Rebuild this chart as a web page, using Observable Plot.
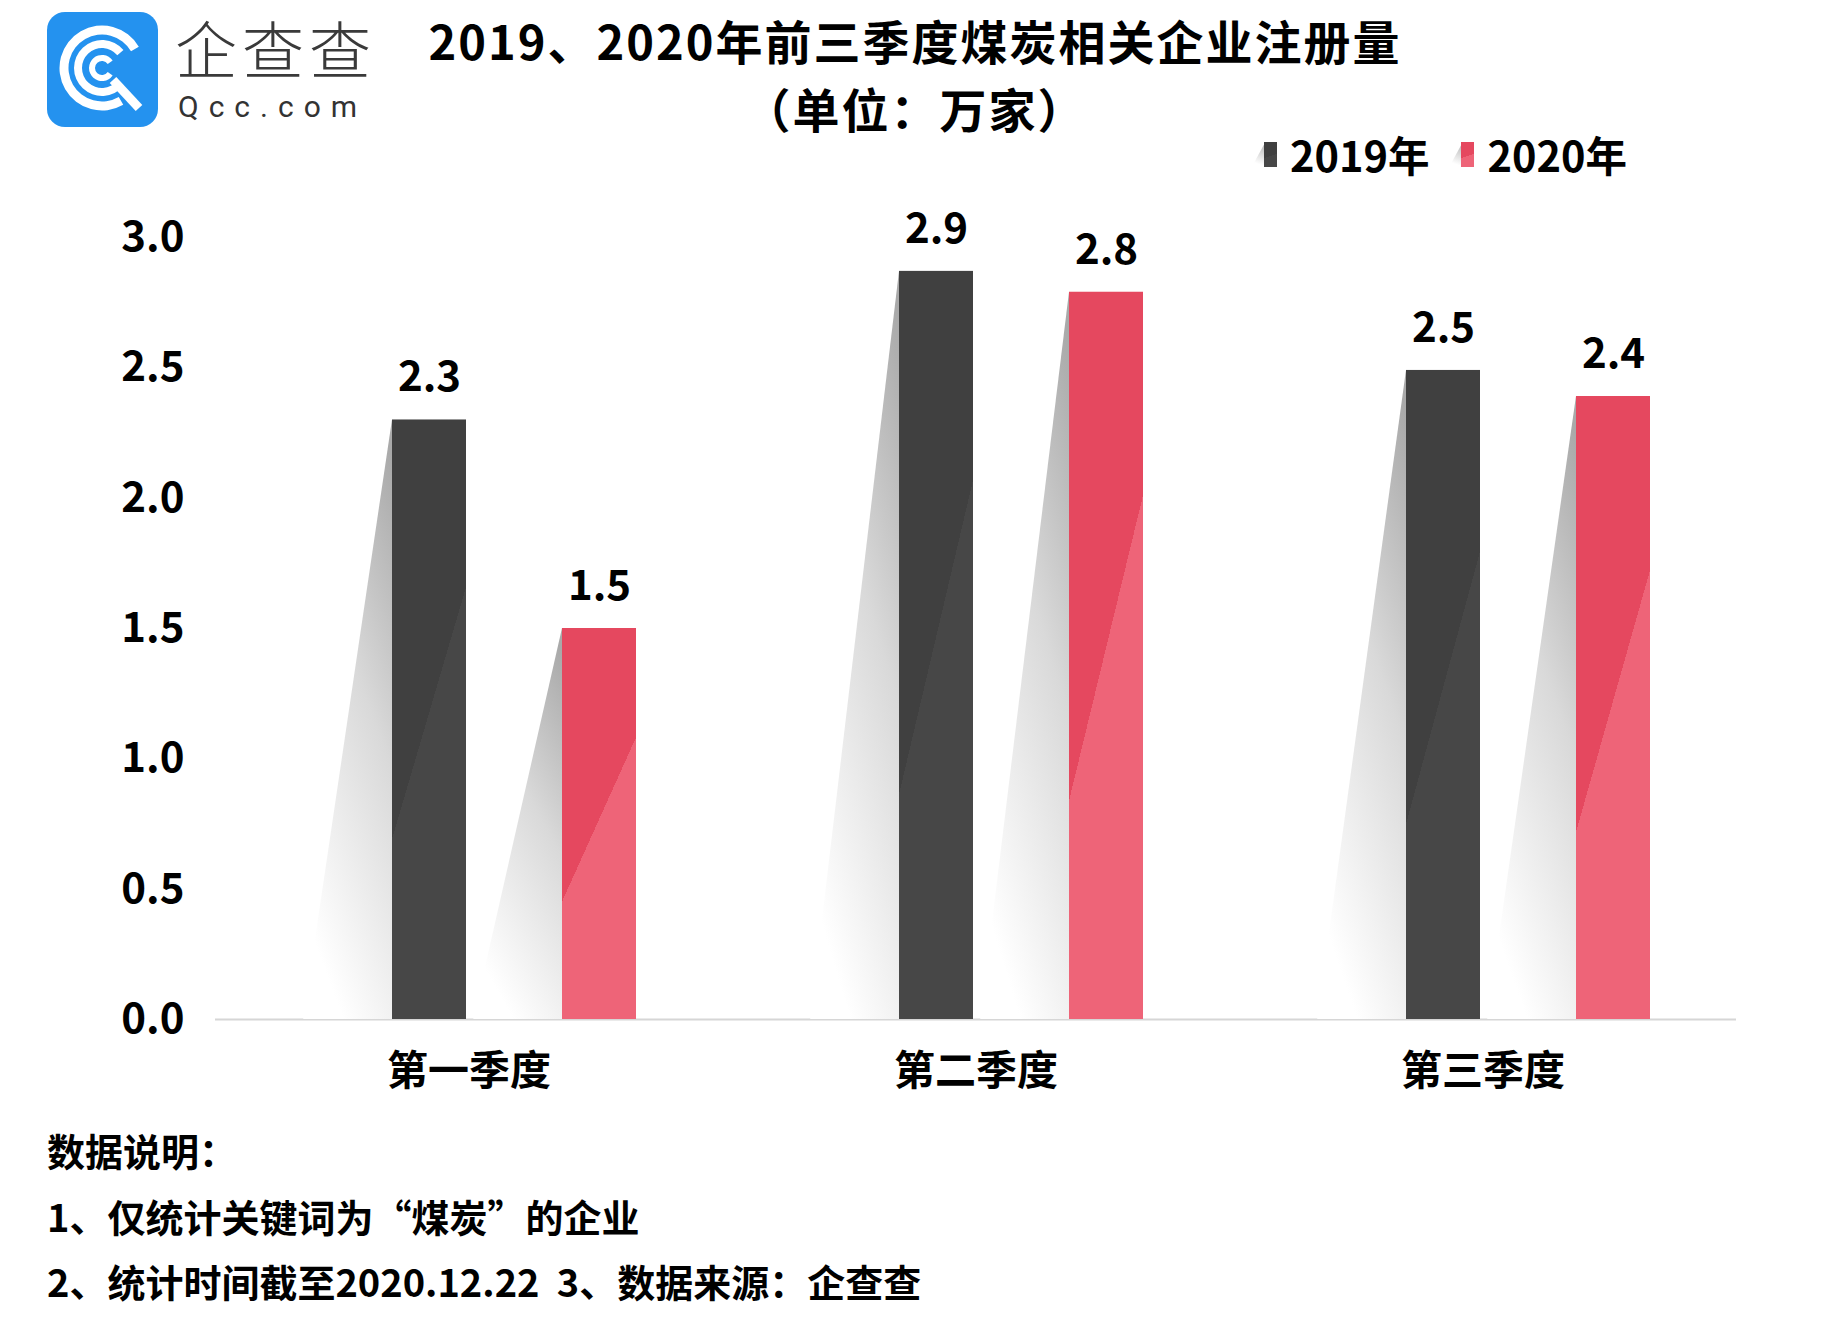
<!DOCTYPE html>
<html>
<head>
<meta charset="utf-8">
<script src="https://cdn.jsdelivr.net/npm/d3@7"></script>
<script src="https://cdn.jsdelivr.net/npm/@observablehq/plot@0.6"></script>
<style>
  html, body { margin: 0; padding: 0; background: #fff; }
  body { width: 1822px; height: 1325px; position: relative; overflow: hidden;
         font-family: "Noto Sans CJK SC", "Noto Sans", sans-serif; color: #000; }
  .abs { position: absolute; }
  #title { left: 0; width: 1830px; top: 6px; text-align: center; font-weight: 700;
           font-size: 47px; line-height: 68px; letter-spacing: 2px; }
  #brand { left: 175px; top: 12px; font-size: 62px; line-height: 70px; font-weight: 300;
           letter-spacing: 5px; color: #3a3a3a; }
  #brand2 { left: 178px; top: 90px; font-family: Roboto, "DejaVu Sans", sans-serif; font-size: 30px;
            line-height: 34px; letter-spacing: 10px; color: #333; }
  #legend { left: 1252px; top: 126px; display: flex; align-items: center; font-weight: 700;
            font-size: 41.5px; line-height: 56px; }
  .item { display: flex; align-items: center; margin-right: 20px; }
  .sw { width: 13px; height: 25px; margin-left: 12px; margin-right: 13px; position: relative; }
  .sw::before { content: ""; position: absolute; left: -12px; top: 3px; width: 12px; height: 22px;
                background: linear-gradient(200deg, #bbb, #fff 80%); clip-path: polygon(100% 0, 100% 100%, 0 100%); }
  #footer { left: 47px; top: 1117px; font-weight: 700; font-size: 38px; line-height: 65.5px; }
  #chart { left: 0; top: 170px; }
</style>
</head>
<body>
<svg class="abs" style="left:47px;top:12px" width="111" height="115" viewBox="0 0 111 115" id="logo"></svg>
<div id="brand" class="abs">企查查</div>
<div id="brand2" class="abs">Qcc.com</div>
<div id="title" class="abs"></div>
<div id="legend" class="abs"></div>
<div id="chart" class="abs"></div>
<div id="footer" class="abs"></div>
<script>
// ---------- data ----------
const quarters = ["第一季度", "第二季度", "第三季度"];
const years = ["2019年", "2020年"];
const values2019 = [2.3, 2.87, 2.49];
const values2020 = [1.5, 2.79, 2.39];
const yTicks = [0, 0.5, 1, 1.5, 2, 2.5, 3];
const titleLines = ["2019、2020年前三季度煤炭相关企业注册量", "（单位：万家）"];
const footerLines = ["数据说明：", "1、仅统计关键词为“煤炭”的企业", "2、统计时间截至2020.12.22\u00a0\u00a03、数据来源：企查查"];
const seriesColors = { "2019年": ["#404040", "#474747"], "2020年": ["#e5485f", "#ee6478"] };

const rows = [];
quarters.forEach((q, i) => {
  rows.push({ quarter: q, year: years[0], value: values2019[i] });
  rows.push({ quarter: q, year: years[1], value: values2020[i] });
});

// ---------- logo ----------
(function () {
  const s = d3.select("#logo");
  s.append("rect").attr("width", 111).attr("height", 115).attr("rx", 18).attr("fill", "#2492ef");
  const cx = 55, cy = 56;
  const arc = (r, a0, a1, w) => s.append("path")
    .attr("d", d3.arc()({ innerRadius: r - w / 2, outerRadius: r + w / 2, startAngle: a0 * Math.PI / 180, endAngle: a1 * Math.PI / 180 }))
    .attr("transform", `translate(${cx},${cy})`).attr("fill", "#fff");
  arc(38, 150, 420, 9);
  arc(24, 130, 410, 8);
  arc(10, 125, 415, 6);
  s.append("line").attr("x1", 66).attr("y1", 68).attr("x2", 92).attr("y2", 96)
    .attr("stroke", "#fff").attr("stroke-width", 9);
})();

// ---------- title / legend / footer ----------
d3.select("#title").selectAll("div").data(titleLines).join("div").text(d => d);
const leg = d3.select("#legend").selectAll(".item").data(years).join("div").attr("class", "item");
leg.append("span").attr("class", "sw")
  .style("background", y => `linear-gradient(160deg, ${seriesColors[y][0]} 55%, ${seriesColors[y][1]} 55%)`);
leg.append("span").text(y => y);
d3.select("#footer").selectAll("div").data(footerLines).join("div").text(d => d);

// ---------- chart ----------
const yFmt = d3.format(".1f");
const chart = Plot.plot({
  width: 1822,
  height: 940,
  marginLeft: 214,
  marginRight: 86,
  marginTop: 67,
  marginBottom: 91,
  style: { fontFamily: "'Noto Sans CJK SC', sans-serif", background: "transparent", overflow: "visible" },
  fx: { domain: quarters, padding: 0, label: null },
  x: { domain: years, paddingInner: 0.564, paddingOuter: 0.765, align: 0.673, axis: null },
  y: { domain: [0, 3], axis: null },
  marks: [
    Plot.axisY({ ticks: yTicks, tickSize: 0, tickPadding: 31, tickFormat: yFmt, fontSize: 42, fontWeight: "bold", fill: "#000", label: null }),
    Plot.axisFx({ anchor: "bottom", tickSize: 0, tickPadding: 36, fontSize: 41, fontWeight: "bold", fill: "#000", label: null }),
    Plot.ruleY([0], { stroke: "#d6d6d6", strokeWidth: 2 }),
    Plot.barY(rows, { fx: "quarter", x: "year", y: "value", fill: "#cccccc", ariaDescription: "shadow" }),
    Plot.barY(rows, { filter: d => d.year === years[0], fx: "quarter", x: "year", y: "value", fill: "url(#g2019)" }),
    Plot.barY(rows, { filter: d => d.year === years[1], fx: "quarter", x: "year", y: "value", fill: "url(#g2020)" }),
    Plot.text(rows, { fx: "quarter", x: "year", y: "value", text: d => yFmt(d.value), dy: -42, fontSize: 42, fontWeight: "bold", fill: "#000" })
  ]
});
document.getElementById("chart").appendChild(chart);

// gradients
const svg = d3.select(chart);
const defs = svg.insert("defs", ":first-child");
years.forEach((y, i) => {
  const g = defs.append("linearGradient").attr("id", i === 0 ? "g2019" : "g2020")
    .attr("x1", 0).attr("y1", 0).attr("x2", 0.42).attr("y2", 1);
  g.append("stop").attr("offset", 0).attr("stop-color", seriesColors[y][0]);
  g.append("stop").attr("offset", 0.595).attr("stop-color", seriesColors[y][0]);
  g.append("stop").attr("offset", 0.595).attr("stop-color", seriesColors[y][1]);
  g.append("stop").attr("offset", 1).attr("stop-color", seriesColors[y][1]);
});
const sg = defs.append("linearGradient").attr("id", "shadowGrad")
  .attr("x1", 0.85).attr("y1", 0).attr("x2", 0.45).attr("y2", 1);
sg.append("stop").attr("offset", 0).attr("stop-color", "#a9a9a9");
sg.append("stop").attr("offset", 0.45).attr("stop-color", "#d9d9d9");
sg.append("stop").attr("offset", 1).attr("stop-color", "#ffffff");

// turn the shadow bars drawn by Plot into slanted triangles left of each bar
svg.selectAll('g[aria-description="shadow"] rect').each(function () {
  const r = d3.select(this);
  const x = +r.attr("x"), y = +r.attr("y"), w = +r.attr("width"), h = +r.attr("height");
  d3.select(this.parentNode).append("path")
    .attr("d", `M${x},${y}L${x},${y + h}L${x - 1.2 * w},${y + h}Z`)
    .attr("fill", "url(#shadowGrad)");
  r.remove();
});
</script>
</body>
</html>
